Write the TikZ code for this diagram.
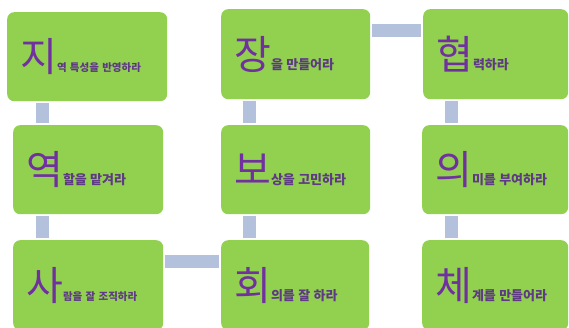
\documentclass[tikz,border=0pt]{standalone}
\usepackage{fontspec}
\newfontfamily\kr{Noto Sans CJK KR}[WordSpace=2]
\definecolor{boxgreen}{HTML}{92D050}
\definecolor{connblue}{HTML}{B4C1DD}
\definecolor{bigpurple}{HTML}{7030A0}
\definecolor{smallpurple}{HTML}{5E3A84}
\newcommand{\bigch}[1]{{\fontsize{40}{40}\selectfont\color{bigpurple}#1}}
\newcommand{\smtxt}[1]{{\fontsize{13}{15}\selectfont\bfseries\color{smallpurple}#1}}
\newcommand{\smtxts}[1]{{\fontsize{10.5}{12}\selectfont\bfseries\color{smallpurple}#1}}
\begin{document}
\begin{tikzpicture}[x=1pt,y=-1pt,
  box/.style={fill=boxgreen, draw=none, rounded corners=7pt, anchor=north west,
    inner xsep=13pt, inner ysep=0pt, minimum height=90pt, align=left, font=\kr},
  conn/.style={draw=connblue, line width=13pt, shorten <=2pt, shorten >=2pt}]
\path[use as bounding box, clip] (0,0) rectangle (569,327);
\fill[white] (0,0) rectangle (569,327);
% column 1
\node[box, text width=134pt, minimum height=89pt] (ji) at (7,12) {\bigch{지}\smtxts{역 특성을 반영하라}};
\node[box, text width=124pt, minimum height=89pt] (yeok) at (13,125) {\bigch{역}\smtxt{할을 맡겨라}};
\node[box, text width=124pt] (sa) at (13,240) {\bigch{사}\smtxts{람을 잘 조직하라}};
% column 2
\node[box, text width=123pt] (jang) at (221,9) {\bigch{장}\smtxt{을 만들어라}};
\node[box, text width=123pt, minimum height=89pt] (bo) at (221,125) {\bigch{보}\smtxt{상을 고민하라}};
\node[box, text width=122pt] (hoe) at (221,240) {\bigch{회}\smtxt{의를 잘 하라}};
% column 3
\node[box, text width=119pt] (hyeop) at (423,9) {\bigch{협}\smtxt{력하라}};
\node[box, text width=120pt, minimum height=89pt] (ui) at (422,125) {\bigch{의}\smtxt{미를 부여하라}};
\node[box, text width=120pt] (che) at (422,240) {\bigch{체}\smtxt{계를 만들어라}};
% connectors
\draw[conn] ([xshift=35.5pt]ji.south west) -- ([xshift=29.5pt]yeok.north west);
\draw[conn] ([xshift=29.5pt]yeok.south west) -- ([xshift=29.5pt]sa.north west);
\draw[conn] ([yshift=-21pt]sa.north east) -- ([yshift=-21pt]hoe.north west);
\draw[conn] ([xshift=28.5pt]jang.south west) -- ([xshift=28.5pt]bo.north west);
\draw[conn] ([xshift=28.5pt]bo.south west) -- ([xshift=28.5pt]hoe.north west);
\draw[conn] ([yshift=-21.5pt]jang.north east) -- ([yshift=-21.5pt]hyeop.north west);
\draw[conn] ([xshift=28.5pt]hyeop.south west) -- ([xshift=29.5pt]ui.north west);
\draw[conn] ([xshift=29.5pt]ui.south west) -- ([xshift=29.5pt]che.north west);
\end{tikzpicture}
\end{document}
